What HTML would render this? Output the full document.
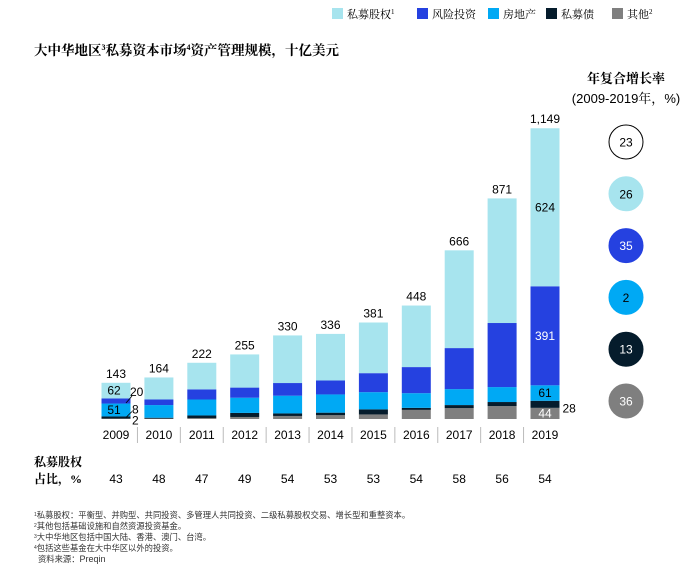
<!DOCTYPE html>
<html><head><meta charset="utf-8"><style>
body{margin:0;background:#fff;}
svg text{font-family:"Liberation Sans","Noto Sans CJK SC",sans-serif;}
.cjk{font-family:"Liberation Serif","Noto Serif CJK SC","Noto Sans CJK SC",serif;}
</style></head><body>
<svg id="c" width="700" height="576" xmlns="http://www.w3.org/2000/svg">
<g font-size="11">
<rect x="332" y="8" width="11" height="11" fill="#a7e4ee"/><text class="cjk" x="347" y="18">私募股权<tspan font-size="7" dy="-4">1</tspan></text>
<rect x="417" y="8" width="11" height="11" fill="#2541e0"/><text class="cjk" x="432" y="18">风险投资</text>
<rect x="488" y="8" width="11" height="11" fill="#00a9f4"/><text class="cjk" x="503" y="18">房地产</text>
<rect x="546" y="8" width="11" height="11" fill="#051c2c"/><text class="cjk" x="561" y="18">私募债</text>
<rect x="612" y="8" width="11" height="11" fill="#7f7f7f"/><text class="cjk" x="627" y="18">其他<tspan font-size="7" dy="-4">2</tspan></text>
</g>
<text class="cjk" x="34" y="55" font-size="13.5" font-weight="bold">大中华地区<tspan font-size="8" dy="-5">3</tspan><tspan dy="5">私募资本市场</tspan><tspan font-size="8" dy="-5">4</tspan><tspan dy="5">资产管理规模，十亿美元</tspan></text>
<text class="cjk" x="626" y="83" font-size="13" font-weight="bold" text-anchor="middle">年复合增长率</text>
<text x="626" y="103" font-size="13" text-anchor="middle">(2009-2019<tspan class="cjk">年，</tspan>%)</text>
<g id="bars"></g>
<g id="cagr"></g>
<text class="cjk" x="34" y="466" font-size="12" font-weight="bold">私募股权</text>
<text class="cjk" x="34" y="483" font-size="12" font-weight="bold">占比，%</text>
<g class="cjk" font-size="8.3" fill="#333">
<text x="34" y="518"><tspan font-size="5" dy="-2">1</tspan><tspan dy="2">私募股权：平衡型、并购型、共同投资、多管理人共同投资、二级私募股权交易、增长型和重整资本。</tspan></text>
<text x="34" y="529"><tspan font-size="5" dy="-2">2</tspan><tspan dy="2">其他包括基础设施和自然资源投资基金。</tspan></text>
<text x="34" y="540"><tspan font-size="5" dy="-2">3</tspan><tspan dy="2">大中华地区包括中国大陆、香港、澳门、台湾。</tspan></text>
<text x="34" y="551"><tspan font-size="5" dy="-2">4</tspan><tspan dy="2">包括这些基金在大中华区以外的投资。</tspan></text>
<text x="38" y="562">资料来源：<tspan font-family="Liberation Sans" font-size="9">Preqin</tspan></text>
</g>
</svg>
<script>
const years=['2009','2010','2011','2012','2013','2014','2015','2016','2017','2018','2019'];
const other=[2,2,4,8,12,15,18,36,43,51,44];
const debt=[8,3,10,16,10,10,20,8,12,16,28];
const realEstate=[51,50,63,60,70,72,68,58,63,59,61];
const venture=[20,22,40,40,50,55,75,103,162,253,391];
const privateEquity=[62,87,105,131,188,184,200,243,386,492,624];
const totals=[143,164,222,255,330,336,381,448,666,871,1149];
const peShare=[43,48,47,49,54,53,53,54,58,56,54];
const cagr=[23,26,35,2,13,36];
const ns='http://www.w3.org/2000/svg';
const base=419, scale=291/1149, x0=116, step=42.9, bw=29;
const xs=i=>x0+i*step, ys=v=>v*scale;
const g=document.getElementById('bars');
function mk(t,a,p){const e=document.createElementNS(ns,t);for(const k in a)e.setAttribute(k,a[k]);(p||g).appendChild(e);return e;}
const series=[[other,'#7f7f7f','other'],[debt,'#051c2c','debt'],[realEstate,'#00a9f4','real-estate'],[venture,'#2541e0','venture'],[privateEquity,'#a7e4ee','private-equity']];
years.forEach((y,i)=>{
  let acc=0;const cx=xs(i);
  series.forEach(([arr,col,nm])=>{
    const h=ys(arr[i]);
    const r=mk('rect',{x:cx-bw/2,y:base-ys(acc)-h,width:bw,height:h,fill:col});
    
    
    acc+=arr[i];
  });
  const t=mk('text',{x:cx,y:base-ys(totals[i])-5,'font-size':12,'text-anchor':'middle'});t.textContent=totals[i].toLocaleString('en-US');
  
  
  const yl=mk('text',{x:cx,y:439,'font-size':12,'text-anchor':'middle'});yl.textContent=y;
  
  
  if(i>0){const s=mk('line',{x1:cx-step/2,x2:cx-step/2,y1:427,y2:443,stroke:'#bbb'});}
  const p=mk('text',{x:cx,y:483,'font-size':12,'text-anchor':'middle'});p.textContent=peShare[i];
  
  
});
function seg(i,k){let a=0;for(let j=0;j<k;j++)a+=series[j][0][i];return base-ys(a)-ys(series[k][0][i])/2;}
function lab(txt,x,y,col,anchor){const t=mk('text',{x:x,y:y+4,'font-size':12,fill:col,'text-anchor':anchor||'middle'});t.textContent=txt;}
lab(privateEquity[0],xs(0)-2,seg(0,4),'#000');
lab(realEstate[0],xs(0)-2,seg(0,2),'#000');
lab(venture[0],xs(0)+14,seg(0,3)-9,'#000','start');
lab(debt[0],xs(0)+16,seg(0,1)-8,'#000','start');
lab(other[0],xs(0)+16,seg(0,0)+2,'#000','start');
mk('line',{x1:xs(0)+10,y1:seg(0,3)+2,x2:xs(0)+16,y2:seg(0,3)-5,stroke:'#000','stroke-width':0.8});
mk('line',{x1:xs(0)+10,y1:seg(0,1),x2:xs(0)+16,y2:seg(0,1)-6,stroke:'#000','stroke-width':0.8});
const L=10;
lab(privateEquity[L],xs(L),seg(L,4),'#000');
lab(venture[L],xs(L),seg(L,3),'#fff');
lab(realEstate[L],xs(L),seg(L,2),'#000');
lab(other[L],xs(L),seg(L,0),'#fff');
lab(debt[L],xs(L)+bw/2+3,seg(L,1)+4,'#000','start');
const cg=document.getElementById('cagr');
const ccols=[['#fff','#000','#000'],['#a7e4ee','#a7e4ee','#000'],['#2541e0','#2541e0','#fff'],['#00a9f4','#00a9f4','#000'],['#051c2c','#051c2c','#fff'],['#7f7f7f','#7f7f7f','#fff']];
cagr.forEach((v,i)=>{
  const cy=142+i*51.8;
  const c=mk('circle',{cx:626,cy:cy,r:17,fill:ccols[i][0],stroke:ccols[i][1]},cg);
  
  
  const t=mk('text',{x:626,y:cy+4.5,'font-size':12,'text-anchor':'middle',fill:ccols[i][2]},cg);t.textContent=v;
  
  
});
</script>
</body></html>
